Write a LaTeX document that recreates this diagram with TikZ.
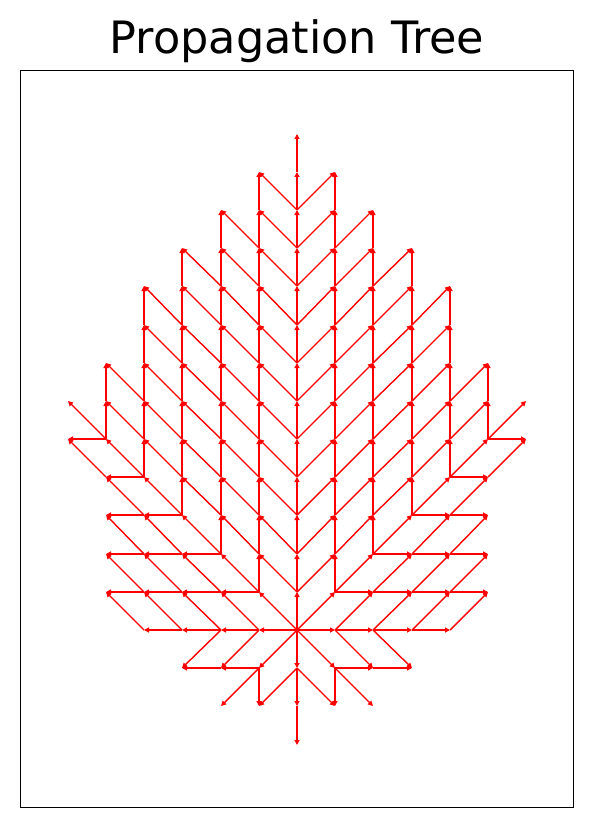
\documentclass[tikz,border=0pt]{standalone}
\usepackage{fontspec}
\setmainfont{DejaVu Sans}
\usetikzlibrary{arrows.meta}
\begin{document}
\begin{tikzpicture}[x=1pt,y=-1pt,
  arr/.style={draw=red, fill=red, line width=1.4pt, -{Triangle[length=5pt,width=5pt]}},
  frame/.style={draw=black, line width=1.3pt},
  titletext/.style={font=\fontsize{44.6}{52}\selectfont, anchor=base, inner sep=0pt}]
\useasboundingbox (0,0) rectangle (594,829);
\node[titletext] (title) at (297,54) {Propagation Tree};
\draw[frame] (20.5,70.5) rectangle (573.5,807.5);
% grid nodes
\foreach \j/\w in {13/0,12/1,11/2,10/3,9/4,8/4,7/5,6/6,5/6,4/5,3/5,2/5,1/5,0/4,-1/3,-2/2,-3/0} {
  \pgfmathtruncatemacro\kmax{2*\w}
  \foreach \k in {0,...,\kmax} {
    \pgfmathtruncatemacro\ii{\k-\w}
    \pgfmathsetmacro\px{round(297+38.17*\ii)}
    \pgfmathsetmacro\py{round(630-38.17*\j)}
    \coordinate (n\ii_\j) at (\px,\py);
  }
}
% edges
\foreach \j/\w in {13/0,12/1,11/2,10/3,9/4,8/4,7/5,6/6,5/6,4/5,3/5,2/5,1/5,0/4,-1/3,-2/2,-3/0} {
  \pgfmathtruncatemacro\kmax{2*\w}
  \foreach \k in {0,...,\kmax} {
    \pgfmathtruncatemacro\ii{\k-\w}
    \pgfmathtruncatemacro\aa{abs(\ii)}
    \pgfmathtruncatemacro\bb{abs(\j)}
    \pgfmathtruncatemacro\pa{\ii-(\ii>0)+(\ii<0)}
    \pgfmathtruncatemacro\pb{\j-(\j>0)+(\j<0)}
    \ifnum\aa=\bb
      \ifnum\aa>0 \draw[arr] (n\pa_\pb) -- (n\ii_\j); \fi
    \else
      \ifnum\bb>\aa
        \draw[arr] (n\ii_\pb) -- (n\ii_\j);
        \ifnum\aa>0 \draw[arr] (n\pa_\pb) -- (n\ii_\j); \fi
      \else
        \draw[arr] (n\pa_\j) -- (n\ii_\j);
        \ifnum\bb>0 \draw[arr] (n\pa_\pb) -- (n\ii_\j); \fi
      \fi
    \fi
  }
}
\end{tikzpicture}
\end{document}
